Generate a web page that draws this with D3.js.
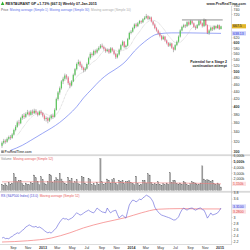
<!DOCTYPE html>
<html>
<head>
<meta charset="utf-8">
<script src="https://cdn.jsdelivr.net/npm/d3@7"></script>
<style>
body { margin: 0; background: #fff; }
svg { display: block; font-family: "Liberation Sans", Arial, sans-serif; }
</style>
</head>
<body>
<script>
// weekly candles, first week starting 2012-07-16
const firstWeek = "2012-07-16"
const opens = [312,318,322,320,326,330,328,335,345,352,362,360,372,378,375,382,386,380,388,384,
  390,385,380,388,384,378,370,372,366,372,378,375,392,420,438,450,470,478,488,482,
  465,458,470,490,508,525,532,520,512,505,510,525,545,560,556,570,565,575,582,590,
  585,578,570,575,565,580,572,560,548,558,575,592,605,585,590,615,640,645,660,675,
  668,680,690,685,698,705,712,700,706,688,675,660,650,638,628,615,625,610,600,590,
  598,582,575,592,605,625,650,665,672,668,685,675,690,680,665,660,672,690,680,668,
  695,672,640,650,662,655,668,660,672,656]
const highs = [321,326,325,329,333,334,338,348,356,366,368,375,382,384,386,392,390,392,393,395,
  394,388,391,392,387,381,376,375,376,382,383,396,424,442,455,474,484,494,492,486,
  470,474,494,512,530,540,536,526,516,515,530,550,566,565,575,576,580,588,596,598,
  590,583,580,579,585,584,575,564,562,579,597,610,608,594,620,645,652,665,680,682,
  686,695,694,703,712,722,716,712,710,692,680,665,654,645,632,630,628,614,604,603,
  601,586,596,610,630,655,670,678,676,690,690,695,694,684,670,676,695,694,684,702,
  698,675,655,666,665,672,671,676,675,670]
const lows = [308,315,316,318,323,324,326,333,342,350,355,358,368,370,372,379,376,378,380,382,
  381,376,378,380,374,366,364,360,363,369,370,373,390,416,432,446,462,472,476,460,
  450,455,468,486,504,520,515,506,498,500,507,522,540,548,552,558,561,570,578,580,
  572,564,566,560,562,568,555,542,544,554,571,588,580,578,587,612,634,641,655,662,
  664,676,678,681,694,700,694,696,684,670,655,645,633,622,610,612,605,595,585,586,
  578,566,572,588,601,621,646,660,660,664,670,672,675,660,652,656,668,676,662,664,
  668,635,632,646,648,651,655,657,652,654]
const closes = [318,322,320,326,330,328,335,345,352,362,360,372,378,375,382,386,380,388,384,390,
  385,380,388,384,378,370,372,366,372,378,375,392,420,438,450,470,478,488,482,465,
  458,470,490,508,525,532,520,512,505,510,525,545,560,556,570,565,575,582,590,585,
  578,570,575,565,580,572,560,548,558,575,592,605,585,590,615,640,645,660,675,668,
  680,690,685,698,705,712,700,706,688,675,660,650,638,628,615,625,610,600,590,598,
  582,575,592,605,625,650,665,672,668,685,675,690,680,665,660,672,690,680,668,695,
  672,640,650,662,655,668,660,672,656,667.5]
// volume in thousands of shares
const volumes = [1100,900,1200,800,1400,1000,1300,2900,2300,1500,1800,1700,1200,900,1300,1100,1000,1400,1200,2700,
  2200,1600,1000,2400,1900,1300,1100,1500,2800,2600,1400,1700,2200,1900,3000,2000,1500,1300,1100,2300,
  1800,2100,1300,1500,1900,1200,1000,2500,2200,1300,1100,2100,1900,1000,1200,900,1400,1100,5600,1500,
  1100,1300,2000,1800,1200,1900,2100,1300,1000,1800,1600,1700,1200,1600,1500,1700,1400,1200,1000,2500,
  1200,900,1100,1800,1700,1300,2900,2700,1400,1100,1200,1000,1500,1100,900,1200,1000,1300,1100,3100,
  1400,1800,1700,1200,1000,1300,1100,1500,1400,1000,900,1200,1500,1400,1300,1000,1100,1300,4300,2000,
  1700,1900,1800,1600,1700,1200,1000,1300,1100,600]
// relative strength vs index
const rs = [2.33,2.35,2.31,2.32,2.30,2.36,2.38,2.43,2.46,2.50,2.48,2.53,2.58,2.62,2.69,2.72,2.76,2.73,2.70,2.69,
  2.71,2.67,2.69,2.66,2.62,2.57,2.53,2.50,2.52,2.49,2.55,2.60,2.66,2.76,2.85,2.92,2.98,2.95,2.96,2.92,
  2.95,2.98,3.02,3.10,3.15,3.12,3.08,3.10,3.14,3.18,3.21,3.24,3.20,3.17,3.15,3.22,3.31,3.26,3.22,3.18,
  3.17,3.15,3.31,3.22,3.15,3.20,3.22,3.24,3.10,2.98,3.04,3.08,3.02,2.98,3.20,3.41,3.50,3.57,3.55,3.51,
  3.55,3.60,3.58,3.64,3.68,3.73,3.70,3.67,3.60,3.51,3.34,3.25,3.18,3.12,3.08,3.06,3.04,3.02,3.00,2.98,
  2.95,2.92,2.92,2.96,3.02,3.15,3.25,3.31,3.27,3.24,3.28,3.30,3.31,3.27,3.24,3.27,3.30,3.31,3.26,3.24,
  3.12,2.98,3.06,3.15,3.08,3.10,3.12,3.15,3.22,3.31]
// moving averages: [week index, value]
const ma30Points = [[5,303],[12,313],[17,323],[24,338],[29,349],[34,362],[39,379],[44,400],[48,423],[53,448],
  [58,474],[63,495],[66,505],[73,535],[78,570],[84,605],[92,636],[100,640],[110,640],[120,639],[129,638]]
const volMa52Points = [[0,1500],[20,1520],[40,1480],[60,1420],[80,1350],[100,1300],[115,1250],[129,1150]]
const rsMa52Points = [[0,2.20],[15,2.24],[29,2.33],[40,2.50],[48,2.66],[60,2.84],[73,3.00],[82,3.15],
  [92,3.27],[105,3.29],[118,3.28],[129,3.28]]
const resistance = { from: "2014-07-28", to: "2015-01-12", value: 695 }

const priceTicks = [300,320,340,360,380,400,420,440,460,480,500,520,540,560,580,600,620,720,740,760]
const volTicks = [2000,3000,4000,5000,6000]
const rsTicks = [2.2,2.4,2.6,2.8,3,3.6,3.8]

const W = 250, H = 250, plotR = 231

const parse = d3.timeParse("%Y-%m-%d")
const dates = closes.map((_, i) => d3.timeWeek.offset(parse(firstWeek), i))
const n = closes.length

const svg = d3.select("body").append("svg").attr("width", W).attr("height", H)
svg.append("rect").attr("width", W).attr("height", H).attr("fill", "#fff")

const x = d3.scaleTime().domain([dates[0], dates[n - 1]]).range([2, 221])
const yP = d3.scaleLog().domain([298, 784]).range([153, 1])
const yV = d3.scaleLinear().domain([0, 6000]).range([190.4, 156.2])
const yR = d3.scaleLinear().domain([2.2, 3.8]).range([242, 193])

const defs = svg.append("defs")
defs.append("clipPath").attr("id", "clipP").append("rect").attr("x", 0).attr("y", 6).attr("width", plotR).attr("height", 148)
defs.append("clipPath").attr("id", "clipR").append("rect").attr("x", 0).attr("y", 193).attr("width", plotR).attr("height", 51)

// panel separators and frame
svg.append("rect").attr("x", 0).attr("y", 154.3).attr("width", W).attr("height", 1.8).attr("fill", "#d9d9d9")
svg.append("rect").attr("x", 0).attr("y", 190.9).attr("width", W).attr("height", 1.8).attr("fill", "#d9d9d9")
svg.append("line").attr("x1", plotR + 0.5).attr("x2", plotR + 0.5).attr("y1", 6).attr("y2", 245)
  .attr("stroke", "#bbb").attr("stroke-width", 0.5)
svg.append("line").attr("x1", 0).attr("x2", plotR + 0.5).attr("y1", 244.5).attr("y2", 244.5)
  .attr("stroke", "#bbb").attr("stroke-width", 0.5)

// ---- price panel
const pg = svg.append("g").attr("clip-path", "url(#clipP)")
const idx = d3.range(n)

pg.append("path")
  .datum(ma30Points)
  .attr("fill", "none").attr("stroke", "#6f7ff0").attr("stroke-width", 0.7)
  .attr("d", d3.line().curve(d3.curveMonotoneX).x(d => x(dates[d[0]])).y(d => yP(d[1])))

const ma10 = closes.map((c, i) => i < 9 ? null : d3.mean(closes.slice(i - 9, i + 1)))
pg.append("path")
  .datum(idx)
  .attr("fill", "none").attr("stroke", "#aaa").attr("stroke-width", 0.5).attr("stroke-dasharray", "0.8,0.7")
  .attr("d", d3.line().defined(i => ma10[i] != null).x(i => x(dates[i])).y(i => yP(ma10[i])))

pg.append("g").selectAll("line").data(idx).join("line")
  .attr("x1", i => x(dates[i])).attr("x2", i => x(dates[i]))
  .attr("y1", i => yP(highs[i])).attr("y2", i => yP(lows[i]))
  .attr("stroke", "#555").attr("stroke-width", 0.4)

pg.append("g").selectAll("rect").data(idx).join("rect")
  .attr("x", i => x(dates[i]) - 0.6).attr("width", 1.2)
  .attr("y", i => yP(Math.max(opens[i], closes[i])))
  .attr("height", i => Math.max(0.5, Math.abs(yP(opens[i]) - yP(closes[i]))))
  .attr("fill", i => closes[i] >= opens[i] ? "#5cc85c" : "#f2708a")

pg.append("line")
  .attr("x1", x(parse(resistance.from))).attr("x2", x(parse(resistance.to)))
  .attr("y1", yP(resistance.value)).attr("y2", yP(resistance.value))
  .attr("stroke", "#222").attr("stroke-width", 0.5)

svg.append("text").attr("x", 227).attr("y", 63.2).attr("text-anchor", "end")
  .attr("font-size", 3.5).attr("font-weight", "bold").attr("fill", "#222")
  .selectAll("tspan").data(["Potential for a Stage 2", "continuation attempt"]).join("tspan")
  .attr("x", 227).attr("dy", (d, i) => i ? 4 : 0).text(d => d)

// ---- volume panel
svg.append("g").selectAll("rect").data(idx).join("rect")
  .attr("x", i => x(dates[i]) - 0.6).attr("width", 1.2)
  .attr("y", i => yV(volumes[i])).attr("height", i => yV(0) - yV(volumes[i]))
  .attr("fill", "#9c9c9c").attr("stroke", "#6e6e6e").attr("stroke-width", 0.25)

svg.append("path").datum(volMa52Points)
  .attr("fill", "none").attr("stroke", "#f08080").attr("stroke-width", 0.6)
  .attr("d", d3.line().curve(d3.curveMonotoneX).x(d => x(dates[d[0]])).y(d => yV(d[1])))

// ---- relative strength panel
const rg = svg.append("g").attr("clip-path", "url(#clipR)")
rg.append("path").datum(rsMa52Points)
  .attr("fill", "none").attr("stroke", "#f37878").attr("stroke-width", 0.7)
  .attr("d", d3.line().curve(d3.curveMonotoneX).x(d => x(dates[d[0]])).y(d => yR(d[1])))
rg.append("path").datum(idx)
  .attr("fill", "none").attr("stroke", "#5b5bd6").attr("stroke-width", 0.6)
  .attr("d", d3.line().x(i => x(dates[i])).y(i => yR(rs[i])))

// ---- right axes
function axisLabels(ticks, scale, fmt, bold) {
  const g = svg.append("g").attr("font-size", 3.6).attr("fill", "#333")
  g.selectAll("line").data(ticks).join("line")
    .attr("x1", plotR + 0.5).attr("x2", plotR + 1.8).attr("y1", d => scale(d)).attr("y2", d => scale(d))
    .attr("stroke", "#999").attr("stroke-width", 0.3)
  g.selectAll("text").data(ticks).join("text")
    .attr("x", plotR + 2.5).attr("y", d => scale(d) + 1.2)
    .attr("font-weight", d => bold(d) ? "bold" : "normal")
    .text(fmt)
}
axisLabels(priceTicks, yP, d => d, d => d % 100 === 0)
axisLabels(volTicks, yV, d => d3.format(",")(d) + "k", d => d === 5000)
axisLabels(rsTicks, yR, d => String(d), d => false)

function valueBox(y, text, bg, fg) {
  svg.append("rect").attr("x", plotR + 1).attr("y", y - 2.1).attr("width", 14).attr("height", 4.2).attr("fill", bg)
  svg.append("text").attr("x", plotR + 2).attr("y", y + 1.2).attr("font-size", 3.5).attr("fill", fg).text(text)
}
valueBox(yP(closes[n - 1]), d3.format(".1f")(closes[n - 1]), "#e2b62a", "#222")
valueBox(yP(ma30Points[ma30Points.length - 1][1]), "638.13", "#c9cdfb", "#2f3fd8")
const volMaLast = volMa52Points[volMa52Points.length - 1][1]
valueBox(yV(volMaLast), d3.format(",")(volMaLast) + "k", "#fde0e0", "#e04848")
const rsLast = rs[n - 1], rsMaLast = rsMa52Points[rsMa52Points.length - 1][1]
valueBox(yR(rsLast) - 1.6, d3.format(".4f")(rsLast), "#d6d8fb", "#3a3ad0")
valueBox(yR(rsMaLast) + 2.6, d3.format(".4f")(rsMaLast), "#fde0e0", "#e04848")

// ---- time axis
const months = d3.timeMonth.every(2).range(new Date(2012, 8, 1), new Date(2015, 1, 1))
svg.append("g").attr("font-size", 3.6).attr("fill", "#333").attr("text-anchor", "middle")
  .selectAll("text").data(months).join("text")
  .attr("x", d => x(d)).attr("y", 248.8)
  .attr("font-weight", d => d.getMonth() === 0 ? "bold" : "normal")
  .text(d => d.getMonth() === 0 ? d3.timeFormat("%Y")(d) : d3.timeFormat("%b")(d))

// ---- header texts
svg.append("path").attr("d", "M0.8,5 L2.6,1.4 L4.4,5 Z").attr("fill", "#2fae2f")
svg.append("text").attr("x", 5.5).attr("y", 4.8).attr("font-size", 3.6).attr("font-weight", "bold").attr("fill", "#222")
  .text("RESTAURANT GP   +1.73% (667.5)   Weekly   07-Jan-2015")
svg.append("text").attr("x", 246).attr("y", 4.6).attr("text-anchor", "end").attr("font-size", 3.6)
  .attr("font-weight", "bold").attr("fill", "#333").text("www.ProRealTime.com")

function legend(y, items) {
  const t = svg.append("text").attr("x", 1).attr("y", y).attr("font-size", 3.2)
  items.forEach((it, i) => t.append("tspan").attr("dx", i ? 1.6 : 0).attr("fill", it[1]).text(it[0]))
}
legend(10.6, [["Price", "#555"], ["Moving average (Simple 1)", "#5a6ee8"],
  ["Moving average (Simple 30)", "#5a6ee8"], ["Moving average (Simple 10)", "#aaa"]])
legend(159.8, [["Volume", "#888"], ["Moving average (Simple 52)", "#e85a5a"]])
legend(196.6, [["RS (S&P500 Index) (13.0)", "#4a4ad0"], ["Moving average (Simple 52)", "#e85a5a"]])

// ProRealTime logo in price panel
svg.append("rect").attr("x", 1.2).attr("y", 150.4).attr("width", 2.6).attr("height", 2.6).attr("fill", "#888")
svg.append("text").attr("x", 4.6).attr("y", 153).attr("font-size", 3.2).attr("font-weight", "bold")
  .attr("fill", "#555").text("ProRealTime.com")
</script>
</body>
</html>
